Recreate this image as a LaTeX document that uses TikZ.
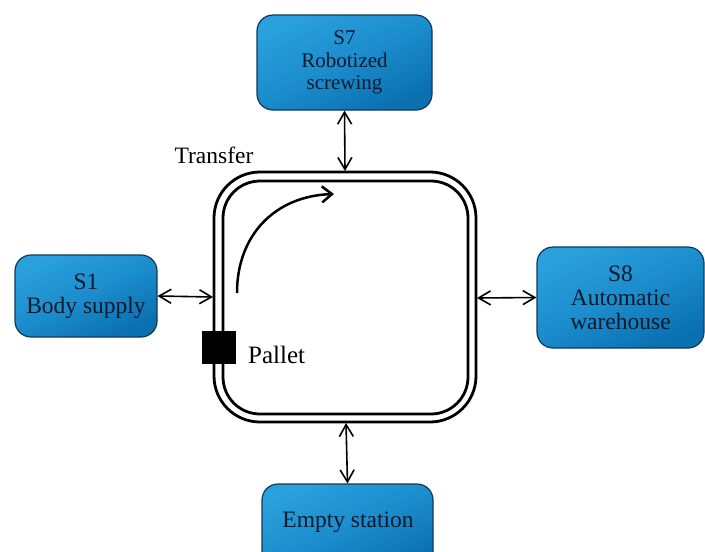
\documentclass[tikz,border=0pt]{standalone}
\usepackage{fontspec}
\setmainfont{Liberation Serif}
\usetikzlibrary{arrows.meta}
\definecolor{boxtop}{HTML}{2AA0DC}
\definecolor{boxmid}{HTML}{1B8CCC}
\definecolor{boxbot}{HTML}{0A70B0}
\definecolor{boxline}{HTML}{123A55}
\definecolor{boxtext}{HTML}{0E1A2E}
\tikzset{
  station/.style={draw=boxline, line width=1.2pt, rounded corners=16pt,
    top color=boxtop, bottom color=boxbot, middle color=boxmid, shading angle=25,
    text=boxtext, align=center, inner sep=0pt,
    font=\fontsize{23.5}{24}\selectfont},
  link/.style={line width=1.6pt, {Straight Barb[length=12pt,width=14pt]}-{Straight Barb[length=12pt,width=14pt]}},
  track/.style={line width=2.8pt, rounded corners=46pt},
  lbl/.style={font=\fontsize{23.5}{24}\selectfont, inner sep=0pt},
}
\begin{document}
\begin{tikzpicture}[x=1pt,y=-1pt]
\useasboundingbox (0,0) rectangle (705,552);
\clip (0,0) rectangle (705,552);
% stations
\node[station, minimum width=175pt, minimum height=95pt, font=\fontsize{21}{22.5}\selectfont] (s7) at (344.5,62.5) {S7\\Robotized\\screwing};
\node[station, minimum width=142pt, minimum height=82pt] (s1) at (86,296) {S1\\Body supply};
\node[station, minimum width=167pt, minimum height=101pt] (s8) at (620.5,297.5) {S8\\Automatic\\warehouse};
\node[station, minimum width=171pt, minimum height=90pt] (s0) at (347.5,529) {};
\node[lbl, text=boxtext] (s0t) at (348,522) {Empty station};
% track
\draw[track] (214,172) rectangle (476,422);
\draw[track, rounded corners=37pt] (223,181) rectangle (468,414);
\coordinate (tl) at (213,297);
\coordinate (tr) at (477,298);
\coordinate (tt) at (345,171);
\coordinate (tb) at (346,423);
% pallet
\node[fill=black, minimum width=34pt, minimum height=33pt, inner sep=0pt] (pal) at (219,347.5) {};
\node[lbl, anchor=west, font=\fontsize{25}{26}\selectfont] (pall) at (248,355) {Pallet};
\node[lbl] (tra) at (214,155) {Transfer};
% links
\draw[link] (s7.south) -- (tt);
\draw[link] (s1.east) -- (tl);
\draw[link] (tr) -- (s8.west);
\draw[link] (tb) -- (s0.north);
% flow arrow
\coordinate (fa) at (237,293);
\coordinate (fb) at (334,194);
\draw[line width=2.5pt, -{Straight Barb[length=10pt,width=16pt]}] (fa) .. controls (237,235) and (275,196) .. (fb);
\end{tikzpicture}
\end{document}
